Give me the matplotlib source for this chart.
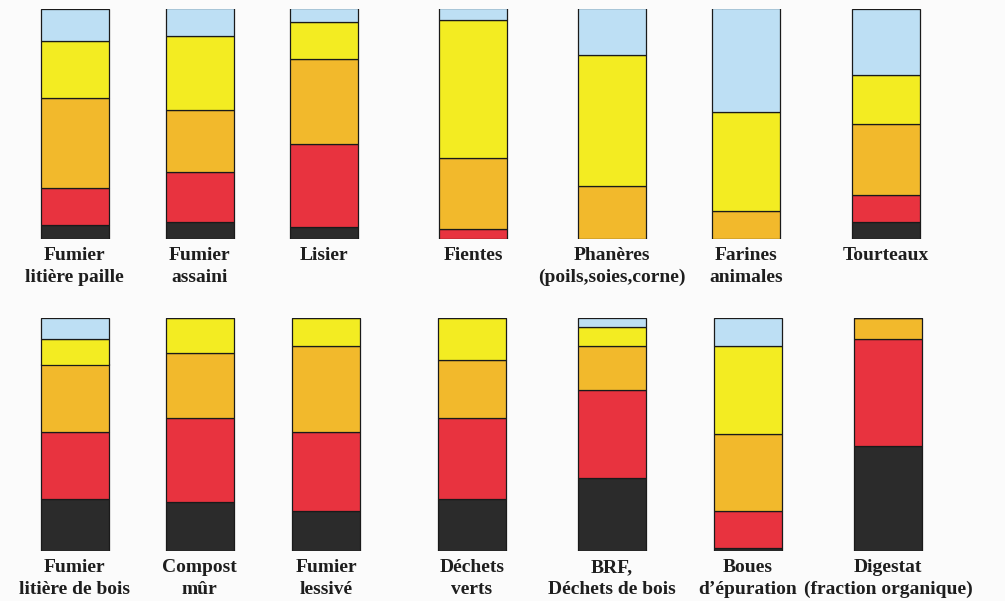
import numpy as np
import matplotlib
matplotlib.use("Agg")
import matplotlib.pyplot as plt

# répartition (%) de chaque produit, du haut vers le bas : bleu, jaune, orange, rouge, noir
noms_haut = ["Fumier\nlitière paille", "Fumier\nassaini", "Lisier", "Fientes",
             "Phanères\n(poils,soies,corne)", "Farines\nanimales", "Tourteaux"]
bleu_haut = [14, 12, 6, 5, 20, 45, 29]
jaune_haut = [25, 32, 16, 60, 57, 43, 21]
orange_haut = [39, 27, 37, 31, 23, 12, 31]
rouge_haut = [16, 22, 36, 4, 0, 0, 12]
noir_haut = [6, 7, 5, 0, 0, 0, 7]

noms_bas = ["Fumier\nlitière de bois", "Compost\nmûr", "Fumier\nlessivé", "Déchets\nverts",
            "BRF,\nDéchets de bois", "Boues\nd’épuration", "Digestat\n(fraction organique)"]
bleu_bas = [9, 0, 0, 0, 4, 12, 0]
jaune_bas = [11, 15, 12, 18, 8, 38, 0]
orange_bas = [29, 28, 37, 25, 19, 33, 9]
rouge_bas = [29, 36, 34, 35, 38, 16, 46]
noir_bas = [22, 21, 17, 22, 31, 1, 45]

couleurs = ["#2b2b2b", "#e8333f", "#f2b92c", "#f3ec22", "#bddff4"]

# mise en page (pixels de la figure)
x_haut = [74.5, 199.5, 324, 473, 612, 746, 886]
x_bas = [74.5, 199.5, 326, 472, 612, 747.5, 888]
largeur = 68

plt.rcParams["font.family"] = ["Liberation Serif", "DejaVu Serif"]

fig = plt.figure(figsize=(10.05, 6.01), dpi=100)
fig.patch.set_facecolor("#fbfbfb")


def rangee(rect, xs, noms, series):
    ax = fig.add_axes(rect)
    ax.set_xlim(0, 1005)
    ax.set_ylim(0, 100)
    bas = np.zeros(len(noms))
    for vals, c in zip(series, couleurs):
        vals = np.array(vals, dtype=float)
        ax.bar(xs, vals, width=largeur, bottom=bas, color=c,
               edgecolor="#1a1a1a", linewidth=0.9)
        bas += vals
    ax.set_xticks(xs, noms, fontsize=14, fontweight="bold", color="#1e1e1e",
                  linespacing=1.4)
    ax.tick_params(axis="x", length=0, pad=6)
    ax.set_yticks([])
    ax.set_facecolor("none")
    for s in ax.spines.values():
        s.set_visible(False)
    return ax


rangee([0, 1 - 238.5 / 601, 1, 230 / 601], x_haut, noms_haut,
       [noir_haut, rouge_haut, orange_haut, jaune_haut, bleu_haut])
rangee([0, 1 - 550.5 / 601, 1, 232.5 / 601], x_bas, noms_bas,
       [noir_bas, rouge_bas, orange_bas, jaune_bas, bleu_bas])

fig.savefig("out.png", dpi=100, facecolor=fig.get_facecolor())
